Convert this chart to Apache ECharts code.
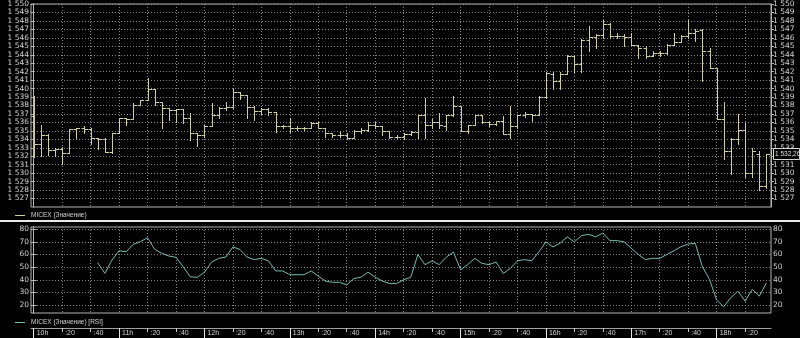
<!DOCTYPE html>
<html>
<head>
<meta charset="utf-8">
<script src="https://cdn.jsdelivr.net/npm/echarts@6/dist/echarts.min.js"></script>
<style>
html,body{margin:0;padding:0;background:#000;}
#chart{width:800px;height:338px;}
</style>
</head>
<body>
<div id="chart"></div>
<script>
// ---- data ----
const times = [
 '10:00','10:05','10:10','10:15','10:20','10:25','10:30','10:35','10:40','10:45','10:50','10:55',
 '11:00','11:05','11:10','11:15','11:20','11:25','11:30','11:35','11:40','11:45','11:50','11:55',
 '12:00','12:05','12:10','12:15','12:20','12:25','12:30','12:35','12:40','12:45','12:50','12:55',
 '13:00','13:05','13:10','13:15','13:20','13:25','13:30','13:35','13:40','13:45','13:50','13:55',
 '14:00','14:05','14:10','14:15','14:20','14:25','14:30','14:35','14:40','14:45','14:50','14:55',
 '15:00','15:05','15:10','15:15','15:20','15:25','15:30','15:35','15:40','15:45','15:50','15:55',
 '16:00','16:05','16:10','16:15','16:20','16:25','16:30','16:35','16:40','16:45','16:50','16:55',
 '17:00','17:05','17:10','17:15','17:20','17:25','17:30','17:35','17:40','17:45','17:50','17:55',
 '18:00','18:05','18:10','18:15','18:20','18:25','18:30','18:35'
];
const open = [
 1536.7,1533.5,1534.5,1532.7,1532.9,1532.4,1535.2,1535.35,1535.2,1534.1,1534.0,1532.5,
 1534.8,1536.5,1536.4,1538.1,1538.6,1539.9,1538.4,1537.7,1537.45,1537.6,1536.5,1534.7,
 1534.5,1535.6,1536.9,1537.7,1537.85,1539.55,1539.3,1537.85,1537.3,1537.55,1537.2,1535.6,
 1535.6,1535.3,1535.35,1535.35,1535.9,1535.35,1534.7,1534.5,1534.55,1534.2,1534.95,1535.1,
 1535.75,1535.6,1534.95,1534.3,1534.3,1534.6,1534.85,1536.9,1535.75,1536.05,1535.55,1536.85,
 1537.9,1535.0,1535.75,1536.85,1536.05,1535.8,1536.2,1534.65,1535.55,1536.9,1537.0,1536.9,
 1539.0,1541.75,1540.9,1541.7,1543.85,1542.95,1545.8,1546.1,1546.3,1547.6,1546.2,1546.2,
 1546.1,1545.15,1544.85,1543.85,1544.25,1544.25,1545.2,1545.45,1546.2,1546.6,1546.9,1544.4,
 1542.4,1536.35,1532.6,1534.0,1535.15,1530.0,1532.3,1528.5
];
const high = [
 1539.1,1535.75,1534.6,1533.0,1533.1,1535.2,1535.35,1535.6,1535.35,1534.2,1534.1,1534.8,
 1536.5,1536.5,1538.25,1538.6,1541.2,1539.9,1538.4,1537.7,1537.6,1537.6,1537.1,1534.7,
 1535.7,1538.25,1537.85,1538.4,1540.0,1539.55,1539.3,1537.95,1537.65,1537.7,1537.2,1535.75,
 1536.5,1535.6,1535.5,1536.1,1536.1,1535.35,1534.8,1534.95,1534.8,1535.1,1535.3,1536.0,
 1536.1,1535.6,1534.95,1534.5,1534.8,1534.95,1536.9,1538.9,1536.35,1537.1,1536.9,1539.1,
 1537.9,1535.75,1536.9,1536.9,1536.05,1536.2,1536.7,1537.9,1536.9,1537.2,1537.0,1539.1,
 1542.0,1542.0,1542.0,1544.0,1544.0,1545.9,1547.4,1546.5,1548.1,1547.7,1546.6,1546.4,
 1546.6,1545.15,1545.0,1544.45,1544.5,1545.3,1546.6,1546.3,1548.1,1547.0,1547.0,1544.85,
 1542.4,1538.4,1534.2,1537.0,1535.9,1533.0,1532.6,1532.3
];
const low = [
 1531.9,1532.0,1532.2,1532.0,1531.1,1532.4,1534.1,1534.8,1533.5,1532.9,1532.5,1532.4,
 1534.8,1535.7,1536.4,1538.1,1538.6,1538.1,1535.35,1536.3,1536.0,1535.9,1533.9,1533.2,
 1534.3,1535.6,1536.5,1537.45,1537.7,1538.8,1536.55,1536.3,1537.05,1536.9,1534.9,1535.35,
 1534.9,1535.1,1535.1,1535.3,1535.35,1534.3,1534.3,1534.3,1534.0,1534.1,1534.7,1534.95,
 1535.35,1534.5,1534.1,1534.1,1534.0,1534.5,1534.1,1534.1,1535.35,1535.35,1535.15,1536.7,
 1534.95,1534.7,1535.75,1535.9,1535.55,1535.65,1534.6,1534.1,1535.3,1536.6,1536.2,1536.9,
 1538.9,1539.9,1539.9,1541.7,1542.0,1542.0,1544.4,1544.85,1546.0,1546.0,1546.0,1545.0,
 1545.15,1543.65,1543.65,1543.85,1543.85,1544.1,1545.1,1545.45,1545.95,1545.6,1540.9,1542.4,
 1536.35,1531.7,1529.9,1533.5,1529.5,1529.5,1528.0,1528.3
];
const close = [
 1533.5,1534.5,1532.7,1532.9,1532.4,1535.2,1535.35,1535.2,1534.1,1534.0,1532.5,1534.7,
 1536.5,1536.4,1538.1,1538.6,1539.9,1538.4,1537.7,1537.45,1537.6,1536.5,1534.7,1534.5,
 1535.6,1536.9,1537.7,1537.85,1539.55,1539.3,1537.85,1537.3,1537.55,1537.2,1535.6,1535.6,
 1535.3,1535.35,1535.35,1535.9,1535.35,1534.7,1534.5,1534.55,1534.2,1534.95,1535.1,1535.75,
 1535.6,1534.95,1534.3,1534.3,1534.6,1534.85,1536.9,1535.75,1536.05,1535.75,1536.85,1537.9,
 1535.0,1535.75,1536.85,1536.05,1535.8,1536.2,1534.65,1535.55,1536.9,1537.0,1536.9,1539.0,
 1541.9,1540.9,1541.7,1543.85,1542.95,1545.8,1546.1,1546.3,1547.6,1546.2,1546.2,1546.1,
 1545.15,1544.85,1543.85,1544.25,1544.25,1545.2,1545.45,1546.2,1546.6,1546.8,1544.4,1542.4,
 1536.35,1532.6,1534.0,1535.15,1530.0,1532.6,1528.5,1532.26
];
const rsi = [
 null,null,null,null,null,null,null,null,null,53.5,45.1,55.6,
 63.0,62.2,68.1,70.2,73.3,64.1,61.0,58.8,57.8,50.3,42.4,41.9,
 46,54,57,58,66,64,58,56,57,55,47,47,
 44,44,44,47,43,39,38,38,36,41,42,46,
 42,39,37,37,40,42,60,52,55,52,58,62,
 48,52,57,53,52,54,45,49,55,56,55,62,
 70,66,69,74,70,75,76,74,77,71,71,70,
 65,60,56,57,57,60,63,66.2,68.3,68.9,50.3,40.3,
 23.9,18.6,26.0,31.0,23.1,32.4,27.1,37.6
];
const tickMinutes = [0,20,40,60,80,100,120,140,160,180,200,220,240,260,280,300,320,340,360,380,400,420,440,460,480,500];
const tickLabels = ['10h',':20',':40','11h',':20',':40','12h',':20',':40','13h',':20',':40','14h',':20',':40','15h',':20',':40','16h',':20',':40','17h',':20',':40','18h',':20'];
const hourMinutes = [0,60,120,180,240,300,360,420,480];
const priceTicks = [1527,1528,1529,1530,1531,1532,1533,1534,1535,1536,1537,1538,1539,1540,1541,1542,1543,1544,1545,1546,1547,1548,1549,1550];
const rsiTicks = [20,30,40,50,60,70,80];
const legendMain = 'MICEX (Значение)';
const legendRsi = 'MICEX (Значение) [RSI]';

// ---- styles ----
const BAR_COLOR = '#cfcf9c';
const RSI_COLOR = '#78bcb4';
const TXT = '#d4d4d4';
const FRAME = '#b4b4b4';
const GRIDC = '#8a8a8a';
const AXFONT = 'DejaVu Sans';
const X_MIN = -1.9, X_MAX = 518.2;

function toMin(t){ const p=t.split(':'); return (+p[0]-10)*60 + (+p[1]); }
function fmtPrice(v){ return String(v).replace(/\B(?=(\d{3})+(?!\d))/g,' '); }

const ohlc = times.map((t,i)=>[toMin(t), open[i], high[i], low[i], close[i]]);
const rsiData = [];
times.forEach((t,i)=>{ if(rsi[i]!==null) rsiData.push([toMin(t), rsi[i]]); });

function renderOHLC(params, api){
  const x = api.value(0);
  const pO = api.coord([x, api.value(1)]);
  const pH = api.coord([x, api.value(2)]);
  const pL = api.coord([x, api.value(3)]);
  const pC = api.coord([x, api.value(4)]);
  const cx = Math.round(pO[0]) + 0.5;
  const yo = Math.round(pO[1]) + 0.5, yc = Math.round(pC[1]) + 0.5;
  const st = {stroke: BAR_COLOR, lineWidth: 1};
  return {type:'group', children:[
    {type:'line', shape:{x1:cx, y1:Math.round(pH[1]), x2:cx, y2:Math.round(pL[1])+1}, style:st},
    {type:'line', shape:{x1:cx-3, y1:yo, x2:cx, y2:yo}, style:st},
    {type:'line', shape:{x1:cx, y1:yc, x2:cx+3.5, y2:yc}, style:st}
  ]};
}

const dotted = {show:true, lineStyle:{color:GRIDC, type:[1,2], width:1}};
const axLabel = {color:TXT, fontFamily:AXFONT, fontSize:7.5, margin:2};

const chart = echarts.init(document.getElementById('chart'), null, {renderer:'canvas'});
const option = {
  backgroundColor:'#000',
  animation:false,
  grid:[
    {left:31, width:740, top:4, height:203, show:true, borderColor:FRAME, borderWidth:1, backgroundColor:'transparent'},
    {left:31, width:740, top:227, height:86, show:true, borderColor:FRAME, borderWidth:1, backgroundColor:'transparent'}
  ],
  xAxis:[
    {type:'value', gridIndex:0, min:X_MIN, max:X_MAX, axisLine:{show:false},
     axisTick:{show:false, customValues:tickMinutes}, axisLabel:{show:false, customValues:tickMinutes}, splitLine:dotted},
    {type:'value', gridIndex:1, min:X_MIN, max:X_MAX, position:'bottom', offset:15,
     axisLine:{show:true, lineStyle:{color:'#a0a0a0', width:1}},
     axisTick:{show:true, customValues:tickMinutes, length:4, lineStyle:{color:'#c8c8c8'}},
     axisLabel:{show:true, customValues:tickMinutes, color:TXT, fontFamily:'Liberation Sans', fontSize:7, margin:2, align:'left', padding:[0,0,0,3],
       formatter:v=>{const k=tickMinutes.indexOf(v); return k>=0?tickLabels[k]:'';}},
     splitLine:dotted},
    {type:'value', gridIndex:1, min:X_MIN, max:X_MAX, position:'bottom', offset:15,
     axisLine:{show:false},
     axisTick:{show:true, customValues:hourMinutes, length:10, lineStyle:{color:'#e6e6e6'}},
     axisLabel:{show:false}, splitLine:{show:false}}
  ],
  yAxis:[
    {type:'value', gridIndex:0, position:'left', min:1526, max:1550,
     axisLine:{show:true, lineStyle:{color:FRAME}},
     axisTick:{show:true, length:3, customValues:priceTicks, lineStyle:{color:FRAME}},
     axisLabel:Object.assign({customValues:priceTicks, formatter:fmtPrice}, axLabel),
     splitLine:dotted},
    {type:'value', gridIndex:0, position:'right', min:1526, max:1550,
     axisLine:{show:true, lineStyle:{color:FRAME}},
     axisTick:{show:true, length:3, customValues:priceTicks, lineStyle:{color:FRAME}},
     axisLabel:Object.assign({customValues:priceTicks, formatter:fmtPrice}, axLabel),
     splitLine:{show:false}},
    {type:'value', gridIndex:1, position:'left', min:13.7, max:81.8,
     axisLine:{show:true, lineStyle:{color:FRAME}},
     axisTick:{show:true, length:3, customValues:rsiTicks, lineStyle:{color:FRAME}},
     axisLabel:Object.assign({customValues:rsiTicks}, axLabel),
     splitLine:dotted},
    {type:'value', gridIndex:1, position:'right', min:13.7, max:81.8,
     axisLine:{show:true, lineStyle:{color:FRAME}},
     axisTick:{show:true, length:3, customValues:rsiTicks, lineStyle:{color:FRAME}},
     axisLabel:Object.assign({customValues:rsiTicks}, axLabel),
     splitLine:{show:false}}
  ],
  series:[
    {type:'custom', name:legendMain, xAxisIndex:0, yAxisIndex:0, renderItem:renderOHLC,
     encode:{x:0, y:[1,2,3,4]}, data:ohlc, clip:true, silent:true},
    {type:'line', name:legendRsi, xAxisIndex:1, yAxisIndex:2, data:rsiData, showSymbol:false, symbol:'none',
     lineStyle:{color:RSI_COLOR, width:1}, silent:true, clip:true}
  ],
  graphic:[
    {type:'line', id:'sep', shape:{x1:0, y1:221, x2:800, y2:221}, style:{stroke:'#e8e8e8', lineWidth:2}},
    {type:'line', id:'lg1l', shape:{x1:15, y1:215.5, x2:25, y2:215.5}, style:{stroke:BAR_COLOR, lineWidth:1}},
    {type:'text', id:'lg1t', x:31, y:215.5, style:{text:legendMain, fill:TXT, font:'6.5px "Liberation Sans"', verticalAlign:'middle'}},
    {type:'line', id:'lg2l', shape:{x1:15, y1:322.5, x2:25, y2:322.5}, style:{stroke:RSI_COLOR, lineWidth:1}},
    {type:'text', id:'lg2t', x:31, y:322.5, style:{text:legendRsi, fill:TXT, font:'6.5px "Liberation Sans"', verticalAlign:'middle'}}
  ]
};
chart.setOption(option);

const lastClose = close[close.length-1];
const py = chart.convertToPixel({yAxisIndex:0}, lastClose);
const lastTxt = fmtPrice(Math.floor(lastClose)) + ',' + String(Math.round((lastClose%1)*100)).padStart(2,'0');
chart.setOption({graphic:[
  {type:'rect', id:'pxbox', shape:{x:773.5, y:Math.round(py)-5.5, width:26, height:11}, style:{fill:'#000', stroke:'#d8d8d8', lineWidth:1}, z:100},
  {type:'text', id:'pxtxt', x:775, y:Math.round(py), style:{text:lastTxt, fill:'#e0e0e0', font:'6.5px "Liberation Sans"', verticalAlign:'middle'}, z:101}
]});
</script>
</body>
</html>
